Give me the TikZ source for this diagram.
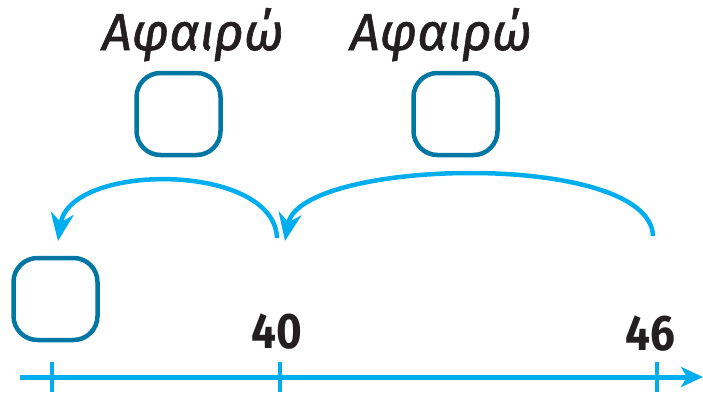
\documentclass[tikz,border=0pt]{standalone}
\usepackage{fontspec}
\usetikzlibrary{arrows.meta}
\newfontfamily\wordfont[FakeBold=1.2]{Fira Sans}
\newfontfamily\numfont{Fira Sans}
\definecolor{axiscyan}{RGB}{0,174,239}
\definecolor{boxblue}{RGB}{0,118,163}
\definecolor{inkblack}{RGB}{35,31,32}
\tikzset{
  answerbox/.style={draw=boxblue, line width=4.5pt, rounded corners=24pt, minimum width=84pt, minimum height=82pt, inner sep=0pt},
  jump/.style={draw=axiscyan, line width=4.5pt, -{Stealth[length=28pt,width=23pt,inset=9pt]}},
  tickmark/.style={draw=axiscyan, line width=4.5pt},
  numlabel/.style={font=\numfont\bfseries\fontsize{50}{50}\selectfont, text=inkblack, anchor=base, inner sep=0pt, xscale=0.88},
  wordlabel/.style={font=\wordfont\itshape\fontsize{52}{52}\selectfont, text=inkblack, anchor=base, inner sep=0pt}
}
\begin{document}
\begin{tikzpicture}[x=1pt,y=-1pt]
\useasboundingbox (0,0) rectangle (703,392);
% axis
\coordinate (axL) at (20,377);
\coordinate (axR) at (703,377);
\draw[draw=axiscyan, line width=5pt, -{Stealth[length=22pt,width=20pt,inset=6pt]}] (axL) -- (axR);
\coordinate (t1a) at (52,362); \coordinate (t1b) at (52,392);
\coordinate (t2a) at (280,362); \coordinate (t2b) at (280,392);
\coordinate (t3a) at (657,362); \coordinate (t3b) at (657,392);
\draw[tickmark] (t1a) -- (t1b);
\draw[tickmark] (t2a) -- (t2b);
\draw[tickmark] (t3a) -- (t3b);
% numbers
\node[numlabel] (n40) at (277,348) {40};
\node[numlabel] (n46) at (650,350) {46};
% boxes
\node[answerbox] (b0) at (55.5,299) {};
\node[answerbox] (b1) at (178.5,114) {};
\node[answerbox] (b2) at (455.5,114) {};
% words
\node[wordlabel] (w1) at (193,50) {Αφαιρώ};
\node[wordlabel] (w2) at (441,50) {Αφαιρώ};
% jumps
\coordinate (s1) at (277,238);
\coordinate (e1) at (58,241);
\coordinate (s2) at (653,236);
\coordinate (e2) at (285,241);
\draw[jump] (s1) .. controls (274,162) and (70,162) .. (e1);
\draw[jump] (s2) .. controls (650,150) and (300,158) .. (e2);
\end{tikzpicture}
\end{document}
